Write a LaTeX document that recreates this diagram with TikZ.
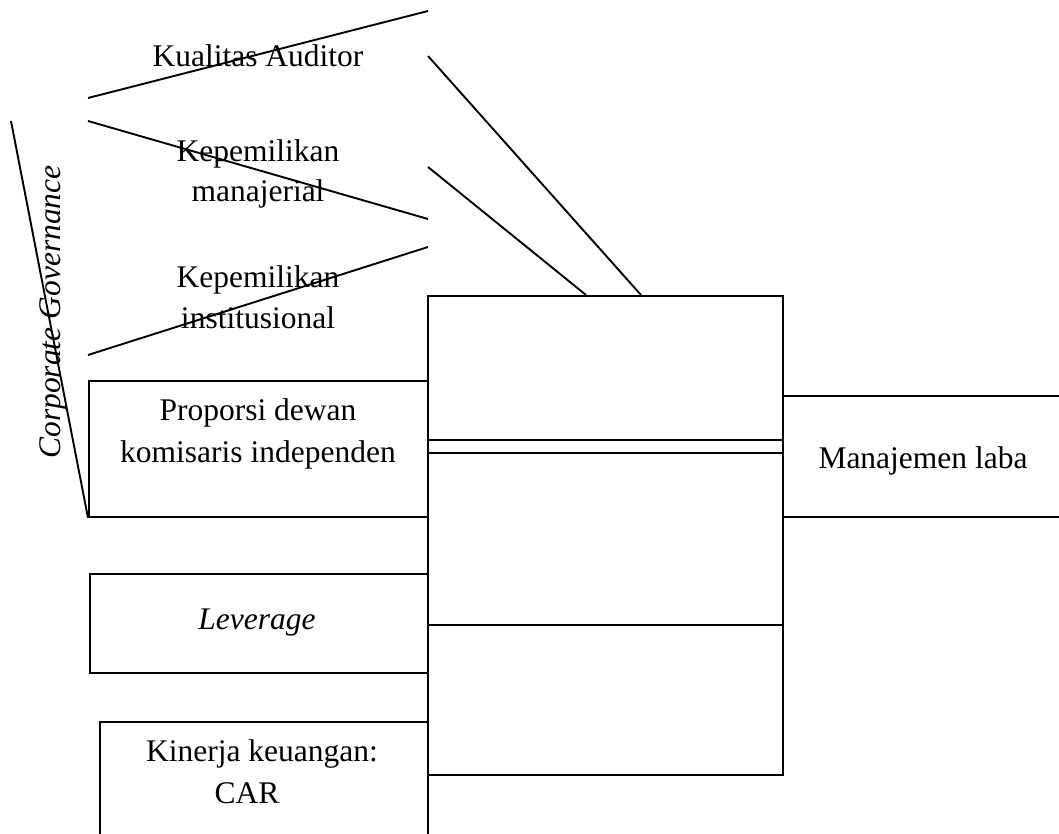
\documentclass[tikz,border=0pt]{standalone}
\usepackage{fontspec}
\setmainfont{Liberation Serif}
\begin{document}
\begin{tikzpicture}[x=1pt,y=-1pt,line width=1.9pt,
  txt/.style={font=\fontsize{31.5}{40}\selectfont,align=center,inner sep=0pt,anchor=base},
  boxn/.style={draw,rectangle,inner sep=0pt,anchor=north west}]
\useasboundingbox (0,0) rectangle (1059,834);
\clip (0,0) rectangle (1059,834);
% boxes
\node[boxn,minimum width=355pt,minimum height=479pt] (big) at (427,295) {};
\node[boxn,minimum width=339pt,minimum height=136pt] (prop) at (88,380) {};
\node[boxn,minimum width=338pt,minimum height=99pt] (lev) at (89,573) {};
\node[boxn,minimum width=328pt,minimum height=160pt] (kin) at (99,721) {};
\node[boxn,minimum width=320pt,minimum height=121pt] (ml) at (782,395) {};
% inner lines of big box
\coordinate (d1l) at (427,440); \coordinate (d1r) at (782,440);
\coordinate (d2l) at (427,453); \coordinate (d2r) at (782,453);
\coordinate (d3l) at (427,625); \coordinate (d3r) at (782,625);
\draw (d1l) -- (d1r);
\draw (d2l) -- (d2r);
\draw (d3l) -- (d3r);
% slanted lines
\coordinate (a1) at (88,98);   \coordinate (b1) at (428,11);
\coordinate (a2) at (88,121);  \coordinate (b2) at (428,219);
\coordinate (a3) at (88,355);  \coordinate (b3) at (428,247);
\coordinate (a4) at (11,121);
\coordinate (c5) at (428,56);  \coordinate (e5) at (641,295);
\coordinate (c6) at (428,167); \coordinate (e6) at (586,295);
\draw (a1) -- (b1);
\draw (a2) -- (b2);
\draw (a3) -- (b3);
\draw (a4) -- (prop.south west);
\draw (c5) -- (e5);
\draw (c6) -- (e6);
% texts
\node[txt] (t1) at (258,67) {Kualitas Auditor};
\node[txt] (t2a) at (258,162) {Kepemilikan};
\node[txt] (t2b) at (258,202) {manajerial};
\node[txt] (t3a) at (258,287) {Kepemilikan};
\node[txt] (t3b) at (258,328) {institusional};
\node[txt] (t4a) at (258,420) {Proporsi dewan};
\node[txt] (t4b) at (258,462) {komisaris independen};
\node[txt] (t5) at (923,468) {Manajemen laba};
\node[txt] (t6) at (257,629) {\itshape Leverage};
\node[txt] (t7a) at (262,761) {Kinerja keuangan:};
\node[txt] (t7b) at (247,803) {CAR};
\node[txt,rotate=90] (cg) at (60,312) {\itshape Corporate Governance};
\end{tikzpicture}
\end{document}
